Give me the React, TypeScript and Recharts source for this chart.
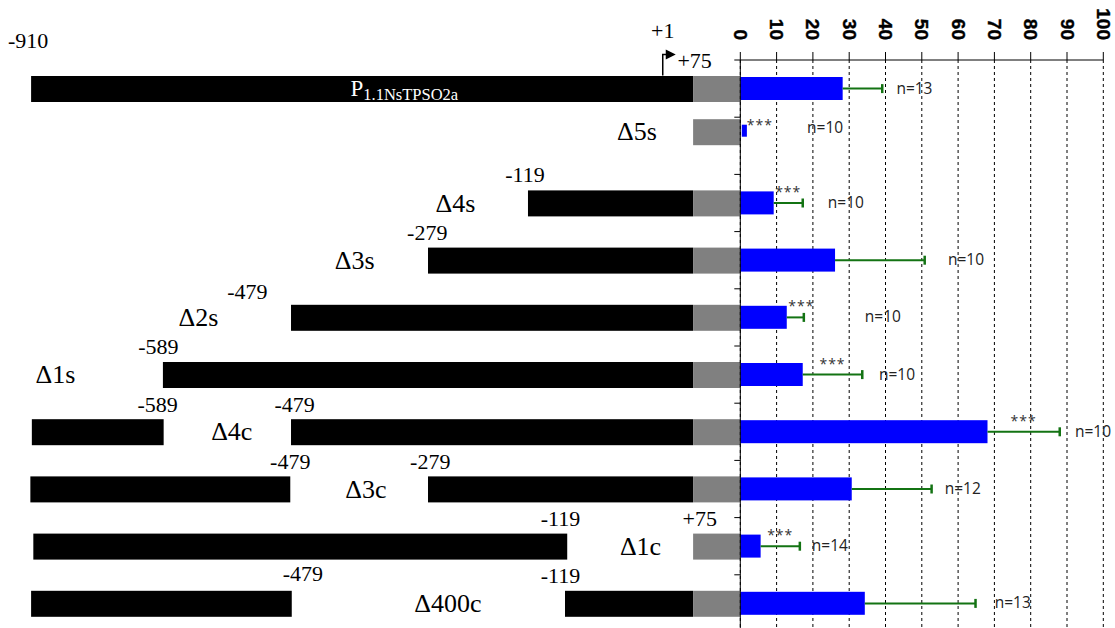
import { ComposedChart, Bar, XAxis, YAxis, CartesianGrid, ReferenceLine, ReferenceDot } from 'recharts';

const CONSTRUCTS = ['P1.1NsTPSO2a', 'Δ5s', 'Δ4s', 'Δ3s', 'Δ2s', 'Δ1s', 'Δ4c', 'Δ3c', 'Δ1c', 'Δ400c'];

// schematic track (not to scale): 0 = left end of the drawing, 1000 = end of the +75 box
const SEG_A = [[42, 936], null, [713, 936], [578, 936], [393, 936], [220, 936], [43, 221], [41, 392], [45, 766], [42, 394]];
const SEG_B = [null, null, null, null, null, null, [393, 936], [578, 936], null, [763, 936]];
const UTR_SEG = [936, 1000];
const NAME_AT = [546, 860, 615, 479, 268, 75, 313, 494, 865, 605];

// relative activity (%)
const ACTIVITY = [28.2, 1.4, 9.2, 26.1, 12.8, 17.2, 68.1, 30.7, 5.6, 34.3];
const ACTIVITY_ERR = [10.9, 0, 8.0, 24.7, 4.7, 16.4, 19.9, 22.0, 10.8, 30.5];
const N_REPS = [13, 10, 10, 10, 10, 10, 10, 12, 14, 13];
const SIGNIF = ['', '***', '***', '', '***', '***', '***', '', '***', ''];
const N_LABEL_AT = [43.0, 18.4, 24.1, 57.2, 34.3, 38.2, 92.2, 56.3, 19.7, 70.1];
const X_TICKS = [0, 10, 20, 30, 40, 50, 60, 70, 80, 90, 100];

// coordinate labels on the schematic: text, row, track position, lift above row centre
const COORD_LABELS: [string, number, number, number][] = [
  ['-910', 0, 38, -48],
  ['+1', 0, 895, -58],
  ['+75', 0, 938, -28],
  ['-119', 2, 709, -28],
  ['-279', 3, 577, -28],
  ['-479', 4, 334, -26],
  ['-589', 5, 214, -28],
  ['-589', 6, 213, -27],
  ['-479', 6, 398, -27],
  ['-479', 7, 392, -27],
  ['-279', 7, 581, -27],
  ['-119', 8, 757, -28],
  ['+75', 8, 945, -28],
  ['-479', 9, 409, -30],
  ['-119', 9, 757, -28],
];

const GREEN = '#137313';
const SERIF = '"Liberation Serif", "Times New Roman", serif';
const SANS = '"Open Sans", "Liberation Sans", sans-serif';
const HALF_BAND = (632 - 60) / CONSTRUCTS.length / 2;

const schemeRows = CONSTRUCTS.map((name, i) => ({ name, a: SEG_A[i], b: SEG_B[i], utr: UTR_SEG }));
const activityRows = CONSTRUCTS.map((name, i) => ({ name, act: ACTIVITY[i] }));

const nudge = (name?: string) => (name === 'Δ5s' ? -14 : 0);

const segShape = (fill: string) => (p: any) => {
  if (!p.width || p.width <= 0 || !isFinite(p.x)) return <g />;
  return <rect x={p.x} y={p.y + nudge(p.payload?.name)} width={p.width} height={p.height} fill={fill} />;
};

const actShape = (p: any) => {
  if (!p.width || p.width <= 0) return <g />;
  if (p.payload?.name === 'Δ5s') {
    const cy = p.y + p.height / 2 - 15;
    return <rect x={p.x + 1.5} y={cy - 6} width={p.width} height={12} fill="#0000ff" />;
  }
  return <rect x={p.x} y={p.y} width={p.width} height={p.height} fill="#0000ff" />;
};

const RotTick = (props: any) => {
  const { x, y, payload } = props;
  return (
    <text
      x={x}
      y={y}
      transform={`rotate(90, ${x}, ${y})`}
      textAnchor="end"
      dominantBaseline="central"
      fontFamily='"Liberation Sans", Arial, sans-serif'
      fontWeight={700}
      fontSize={19}
      fill="#000"
      stroke="#000"
      strokeWidth={0.4}
    >
      {payload.value}
    </text>
  );
};

function SchemeChart() {
  return (
    <ComposedChart
      width={741}
      height={640}
      layout="vertical"
      data={schemeRows}
      margin={{ top: 60, right: 0.5, bottom: 8, left: 0 }}
    >
      <XAxis type="number" domain={[0, 1000]} hide allowDataOverflow />
      <YAxis yAxisId="a" type="category" dataKey="name" hide />
      <YAxis yAxisId="b" type="category" dataKey="name" hide />
      <YAxis yAxisId="u" type="category" dataKey="name" hide />
      <Bar yAxisId="a" dataKey="a" barSize={26} shape={segShape('#000')} isAnimationActive={false} />
      <Bar yAxisId="b" dataKey="b" barSize={26} shape={segShape('#000')} isAnimationActive={false} />
      <Bar yAxisId="u" dataKey="utr" barSize={26} shape={segShape('#808080')} isAnimationActive={false} />

      {COORD_LABELS.map(([text, row, at, lift], k) => (
        <ReferenceDot
          key={`c${k}`}
          yAxisId="a"
          x={at}
          y={CONSTRUCTS[row]}
          shape={(p: any) => (
            <text x={p.cx} y={p.cy + lift + 7.4} textAnchor="middle" fontFamily={SERIF} fontSize={22} fill="#000">
              {text}
            </text>
          )}
        />
      ))}

      <ReferenceDot
        yAxisId="a"
        x={895}
        y={CONSTRUCTS[0]}
        shape={(p: any) => (
          <g>
            <polyline
              points={`${p.cx},${p.cy - 13} ${p.cx},${p.cy - 34} ${p.cx + 5},${p.cy - 34}`}
              fill="none"
              stroke="#000"
              strokeWidth={1.5}
            />
            <polygon points={`${p.cx + 3},${p.cy - 39} ${p.cx + 13},${p.cy - 34} ${p.cx + 3},${p.cy - 29}`} fill="#000" />
          </g>
        )}
      />

      {CONSTRUCTS.map((name, i) => (
        <ReferenceDot
          key={`n${i}`}
          yAxisId="a"
          x={NAME_AT[i]}
          y={name}
          shape={(p: any) =>
            i === 0 ? (
              <text x={p.cx} y={p.cy + 7} textAnchor="middle" fontFamily={SERIF} fill="#fff">
                <tspan fontSize={23}>P</tspan>
                <tspan fontSize={16.5} dy={4}>
                  1.1NsTPSO2a
                </tspan>
              </text>
            ) : (
              <text x={p.cx} y={p.cy + nudge(name) + 8.6} textAnchor="middle" fontFamily={SERIF} fontSize={26} fill="#000">
                {name}
              </text>
            )
          }
        />
      ))}
    </ComposedChart>
  );
}

function ActivityChart() {
  return (
    <ComposedChart
      width={415}
      height={640}
      layout="vertical"
      data={activityRows}
      margin={{ top: 10, right: 11.7, bottom: 8, left: 30.3 }}
    >
      <CartesianGrid horizontal={false} stroke="#000" strokeDasharray="3 3" />
      <XAxis
        type="number"
        orientation="top"
        domain={[0, 100]}
        ticks={X_TICKS}
        interval={0}
        height={50}
        tickSize={8}
        tickMargin={12}
        axisLine={{ stroke: '#000' }}
        tickLine={{ stroke: '#000' }}
        tick={<RotTick />}
      />
      <YAxis type="category" dataKey="name" width={10} tick={false} tickLine={false} axisLine={{ stroke: '#000' }} />
      <Bar dataKey="act" barSize={23} shape={actShape} isAnimationActive={false} />

      {/* tick marks between the rows */}
      {CONSTRUCTS.map((name, i) => (
        <ReferenceDot
          key={`t${i}`}
          x={0}
          y={name}
          shape={(p: any) => (
            <line x1={p.cx - 6} x2={p.cx} y1={p.cy - HALF_BAND} y2={p.cy - HALF_BAND} stroke="#000" />
          )}
        />
      ))}

      {CONSTRUCTS.map((name, i) =>
        ACTIVITY_ERR[i] > 0 ? (
          <ReferenceLine
            key={`w${i}`}
            segment={[
              { x: ACTIVITY[i], y: name },
              { x: ACTIVITY[i] + ACTIVITY_ERR[i], y: name },
            ]}
            stroke={GREEN}
            strokeWidth={2}
          />
        ) : null
      )}
      {CONSTRUCTS.map((name, i) =>
        ACTIVITY_ERR[i] > 0 ? (
          <ReferenceDot
            key={`cap${i}`}
            x={ACTIVITY[i] + ACTIVITY_ERR[i]}
            y={name}
            shape={(p: any) => (
              <line x1={p.cx} x2={p.cx} y1={p.cy - 4.5} y2={p.cy + 4.5} stroke={GREEN} strokeWidth={2.5} />
            )}
          />
        ) : null
      )}
      {CONSTRUCTS.map((name, i) =>
        SIGNIF[i] ? (
          <ReferenceDot
            key={`s${i}`}
            x={ACTIVITY[i] + Math.max(ACTIVITY_ERR[i] / 2, 4)}
            y={name}
            shape={(p: any) => (
              <text
                x={p.cx}
                y={p.cy + nudge(name) * 0.7 - 6}
                textAnchor="middle"
                fontFamily={SANS}
                fontSize={14}
                letterSpacing={1}
                fill="#333"
              >
                {SIGNIF[i]}
              </text>
            )}
          />
        ) : null
      )}
      {CONSTRUCTS.map((name, i) => (
        <ReferenceDot
          key={`r${i}`}
          x={N_LABEL_AT[i]}
          y={name}
          shape={(p: any) => (
            <text x={p.cx} y={p.cy + nudge(name) * 1.3 + 5} fontFamily={SANS} fontSize={15.5} fill="#222">
              {`n=${N_REPS[i]}`}
            </text>
          )}
        />
      ))}
    </ComposedChart>
  );
}

export default function App() {
  return (
    <div
      style={{
        position: 'absolute',
        left: 0,
        top: 0,
        width: 1115,
        height: 628,
        overflow: 'hidden',
        background: '#fff',
      }}
    >
      <div style={{ position: 'absolute', left: 0, top: 0 }}>
        <SchemeChart />
      </div>
      <div style={{ position: 'absolute', left: 700, top: 0 }}>
        <ActivityChart />
      </div>
    </div>
  );
}
